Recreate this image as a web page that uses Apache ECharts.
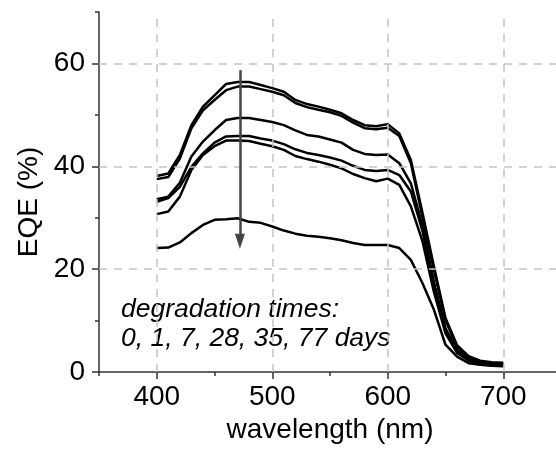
<!DOCTYPE html>
<html>
<head>
<meta charset="utf-8">
<script src="https://cdn.jsdelivr.net/npm/echarts@6/dist/echarts.min.js"></script>
<style>
  html, body { margin: 0; padding: 0; background: #fff; }
  #chart { width: 556px; height: 450px; }
</style>
</head>
<body>
<div id="chart"></div>
<script>
// wavelength in nm, 10 nm steps
const wavelength = [400, 410, 420, 430, 440, 450, 460, 470, 480, 490, 500, 510, 520, 530, 540, 550,
    560, 570, 580, 590, 600, 610, 620, 630, 640, 650, 660, 670, 680, 690, 700];

// EQE (%) after each degradation time
const eqeDay0 = [38.1, 38.6, 42.2, 48.0, 51.6, 53.8, 56.0, 56.4, 56.4, 55.8, 55.2, 54.5, 52.9, 52.1, 51.6, 51.0,
    50.3, 49.0, 48.0, 47.8, 48.2, 46.4, 41.2, 31.0, 20.5, 10.5, 5.2, 3.1, 2.2, 1.9, 1.8];
const eqeDay1 = [37.5, 37.9, 41.5, 47.4, 50.9, 52.9, 54.8, 55.5, 55.5, 55.0, 54.5, 53.8, 52.3, 51.5, 51.0, 50.5,
    49.8, 48.5, 47.4, 47.2, 47.5, 45.9, 40.6, 30.2, 19.8, 10.0, 4.9, 2.9, 2.0, 1.7, 1.6];
const eqeDay7 = [33.6, 34.1, 36.8, 41.9, 44.8, 47.0, 49.0, 49.4, 49.4, 49.0, 48.6, 48.0, 47.0, 46.1, 45.8, 45.2,
    44.6, 43.2, 42.4, 42.2, 42.3, 40.6, 36.7, 28.5, 17.5, 8.5, 4.3, 2.6, 1.8, 1.5, 1.4];
const eqeDay28 = [33.1, 33.8, 36.0, 39.9, 42.5, 44.6, 45.8, 45.9, 45.9, 45.4, 45.0, 44.3, 43.3, 42.6, 42.2, 41.7,
    41.1, 40.1, 39.3, 39.1, 39.3, 38.3, 35.1, 27.5, 16.5, 8.0, 4.0, 2.4, 1.7, 1.4, 1.3];
const eqeDay35 = [30.7, 31.2, 34.1, 39.3, 42.2, 43.9, 45.0, 45.0, 44.9, 44.4, 43.9, 43.2, 42.0, 41.4, 40.9, 40.3,
    39.6, 38.5, 37.7, 37.1, 37.6, 36.4, 32.2, 25.5, 15.5, 7.5, 3.7, 2.2, 1.5, 1.3, 1.2];
const eqeDay77 = [24.1, 24.2, 25.2, 27.0, 28.6, 29.6, 29.7, 29.9, 29.2, 29.0, 28.3, 27.5, 26.9, 26.5, 26.3, 26.0,
    25.6, 25.1, 24.7, 24.7, 24.7, 24.1, 21.8, 17.3, 12.1, 5.3, 3.0, 1.7, 1.4, 1.2, 1.1];

const xTickLabels = [400, 500, 600, 700];
const yTickLabels = [0, 20, 40, 60];
const arrowStart = [472, 58.7];
const arrowEnd = [472, 25.4];

const curves = [eqeDay0, eqeDay1, eqeDay7, eqeDay28, eqeDay35, eqeDay77];
const font = 'Liberation Sans, Arial, sans-serif';

const chart = echarts.init(document.getElementById('chart'));

const gridLineStyle = { color: '#c4c4c4', type: [8, 7], width: 1.5 };
const tickStyle = { color: '#333', width: 1.5 };

const option = {
    animation: false,
    grid: { left: 99, top: 12, right: -5, bottom: 78, outerBoundsMode: 'none' },
    xAxis: [
        {
            type: 'value',
            min: 350,
            max: 750,
            interval: 50,
            axisLine: { lineStyle: tickStyle },
            axisTick: { length: 4, lineStyle: tickStyle },
            axisLabel: {
                margin: 11,
                fontSize: 28,
                fontFamily: font,
                color: '#000',
                formatter: v => (xTickLabels.includes(v) ? String(v) : '')
            },
            splitLine: { show: false },
            name: 'wavelength (nm)',
            nameLocation: 'middle',
            nameGap: 43,
            nameTextStyle: { fontSize: 28, fontFamily: font, color: '#000' }
        },
        {
            type: 'value',
            min: 350,
            max: 750,
            position: 'bottom',
            axisLine: { show: false },
            axisTick: { length: 7, customValues: xTickLabels, lineStyle: tickStyle },
            axisLabel: { show: false },
            splitLine: { show: false }
        }
    ],
    yAxis: [
        {
            type: 'value',
            min: 0,
            max: 70,
            interval: 10,
            axisLine: { show: true, lineStyle: tickStyle },
            axisTick: { show: true, length: 4, lineStyle: tickStyle },
            axisLabel: {
                margin: 14,
                fontSize: 28,
                fontFamily: font,
                color: '#000',
                formatter: v => (yTickLabels.includes(v) ? String(v) : '')
            },
            splitLine: { show: false }
        },
        {
            type: 'value',
            min: 0,
            max: 70,
            position: 'left',
            axisLine: { show: false },
            axisTick: { show: true, length: 7, customValues: yTickLabels, lineStyle: tickStyle },
            axisLabel: { show: false },
            splitLine: { show: false }
        }
    ],
    graphic: [
        {
            // y axis title
            type: 'text',
            x: 29,
            y: 202,
            rotation: Math.PI / 2,
            style: {
                text: 'EQE (%)',
                font: '28px ' + font,
                fill: '#000',
                textAlign: 'center',
                textVerticalAlign: 'middle'
            }
        },
        {
            type: 'text',
            left: 121,
            top: 296,
            style: { text: 'degradation times:', font: 'italic 26.5px ' + font, fill: '#000' }
        },
        {
            type: 'text',
            left: 121,
            top: 325,
            style: { text: '0, 1, 7, 28, 35, 77 days', font: 'italic 26.5px ' + font, fill: '#000' }
        }
    ],
    series: [
        {
            // dashed grid lines
            type: 'line',
            data: [],
            z: 1,
            markLine: {
                silent: true,
                symbol: 'none',
                label: { show: false },
                lineStyle: gridLineStyle,
                data: [
                    ...xTickLabels.map(v => ({ xAxis: v })),
                    ...yTickLabels.filter(v => v > 0).map(v => ({ yAxis: v }))
                ]
            }
        },
        ...curves.map(values => ({
            type: 'line',
            data: wavelength.map((w, i) => [w, values[i]]),
            showSymbol: false,
            z: 3,
            lineStyle: { color: '#000', width: 2.5 }
        })),
        {
            // arrow showing the trend with time
            type: 'line',
            data: [],
            z: 5,
            markLine: {
                silent: true,
                symbol: ['none', 'triangle'],
                symbolSize: [10, 15],
                label: { show: false },
                lineStyle: { color: '#444', width: 2.5, type: 'solid' },
                data: [[{ coord: arrowStart }, { coord: arrowEnd }]]
            }
        }
    ]
};

chart.setOption(option);
</script>
</body>
</html>
